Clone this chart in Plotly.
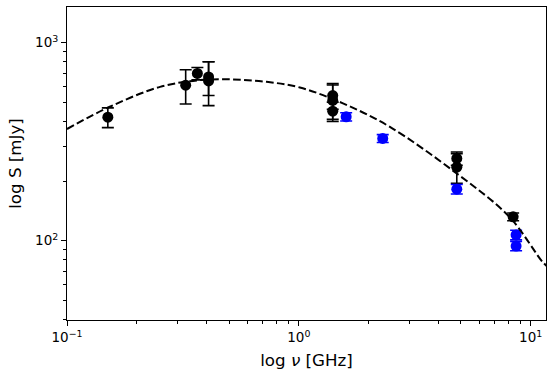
import plotly.graph_objects as go

# Black points (frequency GHz, flux mJy, error mJy)
black_freq = [0.15, 0.325, 0.365, 0.408, 0.408, 1.4, 1.4, 1.4, 4.8, 4.8, 8.4]
black_flux = [420, 609, 698, 670, 640, 540, 510, 450, 260, 235, 132]
black_err = [48, 120, 50, 130, 160, 80, 100, 50, 20, 40, 6]

# Blue points
blue_freq = [1.6, 2.3, 4.8, 8.65, 8.65]
blue_flux = [422, 328, 182, 107, 94]
blue_err = [20, 15, 10, 6, 5]

# Dashed model curve
curve_freq = [0.1, 0.153, 0.252, 0.374, 0.519, 0.726, 1.01, 1.55, 2.47, 4.78, 8.09, 11.27, 12.0]
curve_flux = [366, 474, 597, 646, 651, 633, 593, 493, 375, 219, 132, 78, 73]

x_tickvals = [0.1, 1, 10]
x_ticktext = ["10<sup>\u22121</sup>", "10<sup>0</sup>", "10<sup>1</sup>"]
y_tickvals = [100, 1000]
y_ticktext = ["10<sup>2</sup>", "10<sup>3</sup>"]

x_minor = [m * 10 ** e for e in (-1, 0, 1) for m in range(2, 10)]
y_minor = [m * 10 ** e for e in (1, 2, 3) for m in range(2, 10)]

fig = go.Figure()
fig.add_trace(go.Scatter(
    x=black_freq, y=black_flux, mode="markers",
    marker=dict(color="black", size=11),
    error_y=dict(type="data", array=black_err, color="black", thickness=1.6, width=6),
    showlegend=False))
fig.add_trace(go.Scatter(
    x=blue_freq, y=blue_flux, mode="markers",
    marker=dict(color="blue", size=11),
    error_y=dict(type="data", array=blue_err, color="blue", thickness=1.6, width=6),
    showlegend=False))
fig.add_trace(go.Scatter(
    x=curve_freq, y=curve_flux, mode="lines",
    line=dict(color="black", width=2, dash="7.7px,3.3px", shape="spline"),
    showlegend=False))

axis_common = dict(
    showline=True, linecolor="black", linewidth=1, mirror=True,
    ticks="outside", ticklen=5, tickwidth=1, tickcolor="black",
    showgrid=False, zeroline=False, automargin=False,
    tickfont=dict(family="DejaVu Sans", size=13.5, color="black"),
)

fig.update_xaxes(
    type="log", range=[-1, 1.066],
    tickvals=x_tickvals, ticktext=x_ticktext,
    minor=dict(tickvals=x_minor, ticks="outside", ticklen=3, tickwidth=0.8, tickcolor="black", showgrid=False),
    title=dict(text="log <i>\u03bd</i> [GHz]", font=dict(family="DejaVu Sans", size=16.7, color="black"), standoff=10),
    **axis_common)
fig.update_yaxes(
    type="log", range=[1.6, 3.179],
    tickvals=y_tickvals, ticktext=y_ticktext,
    minor=dict(tickvals=y_minor, ticks="outside", ticklen=3, tickwidth=0.8, tickcolor="black", showgrid=False),
    title=dict(text="log S [mJy]", font=dict(family="DejaVu Sans", size=16.7, color="black"), standoff=9),
    **axis_common)

fig.update_layout(
    width=547, height=372,
    margin=dict(l=67, r=1, t=7, b=52),
    paper_bgcolor="white", plot_bgcolor="white",
    font=dict(family="DejaVu Sans", color="black"),
)

fig.write_html(
    "out.html",
    config={"displayModeBar": False},
    post_script="document.body.style.margin='0px';document.body.style.overflow='hidden';",
)
